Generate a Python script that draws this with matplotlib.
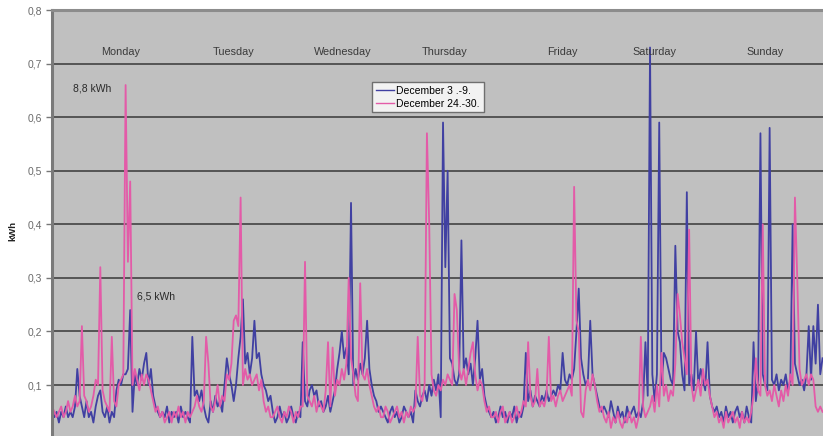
import numpy as np
import matplotlib
matplotlib.use("Agg")
import matplotlib.pyplot as plt

plt.rcParams['font.family'] = ['Liberation Sans', 'DejaVu Sans']

# half-hourly consumption, 48 readings per day, Monday..Sunday
days = ["Monday", "Tuesday", "Wednesday", "Thursday", "Friday", "Saturday", "Sunday"]

week1_mon = [0.05, 0.04, 0.05, 0.03, 0.05, 0.04, 0.06, 0.04, 0.05, 0.04, 0.06, 0.13,
             0.08, 0.06, 0.04, 0.07, 0.04, 0.05, 0.03, 0.06, 0.08, 0.09, 0.05, 0.04,
             0.06, 0.03, 0.05, 0.04, 0.09, 0.11, 0.10, 0.12, 0.12, 0.13, 0.24, 0.05,
             0.12, 0.10, 0.13, 0.11, 0.14, 0.16, 0.10, 0.13, 0.08, 0.06, 0.05, 0.04]
week1_tue = [0.05, 0.04, 0.06, 0.03, 0.05, 0.04, 0.05, 0.03, 0.06, 0.04, 0.05, 0.04,
             0.03, 0.19, 0.08, 0.09, 0.07, 0.09, 0.06, 0.04, 0.03, 0.07, 0.05, 0.08,
             0.06, 0.07, 0.05, 0.10, 0.15, 0.12, 0.10, 0.07, 0.10, 0.15, 0.19, 0.26,
             0.14, 0.16, 0.12, 0.15, 0.22, 0.15, 0.16, 0.12, 0.10, 0.09, 0.07, 0.08]
week1_wed = [0.05, 0.03, 0.04, 0.06, 0.04, 0.05, 0.03, 0.04, 0.06, 0.04, 0.03, 0.05,
             0.04, 0.18, 0.07, 0.06, 0.09, 0.10, 0.08, 0.09, 0.06, 0.07, 0.05, 0.06,
             0.08, 0.05, 0.07, 0.09, 0.13, 0.16, 0.20, 0.15, 0.17, 0.12, 0.44, 0.10,
             0.13, 0.11, 0.14, 0.12, 0.15, 0.22, 0.13, 0.10, 0.08, 0.07, 0.05, 0.06]
week1_thu = [0.05, 0.04, 0.03, 0.05, 0.06, 0.04, 0.05, 0.03, 0.04, 0.06, 0.05, 0.04,
             0.05, 0.03, 0.09, 0.07, 0.06, 0.08, 0.09, 0.07, 0.10, 0.08, 0.11, 0.09,
             0.12, 0.04, 0.59, 0.32, 0.50, 0.15, 0.14, 0.11, 0.10, 0.12, 0.37, 0.13,
             0.15, 0.12, 0.14, 0.10, 0.15, 0.22, 0.11, 0.13, 0.08, 0.06, 0.05, 0.04]
week1_fri = [0.05, 0.03, 0.04, 0.06, 0.04, 0.05, 0.03, 0.05, 0.04, 0.06, 0.03, 0.05,
             0.04, 0.06, 0.16, 0.07, 0.09, 0.06, 0.08, 0.07, 0.06, 0.08, 0.07, 0.09,
             0.07, 0.08, 0.09, 0.08, 0.10, 0.09, 0.16, 0.11, 0.10, 0.12, 0.11, 0.13,
             0.20, 0.28, 0.15, 0.12, 0.10, 0.11, 0.22, 0.12, 0.10, 0.08, 0.06, 0.05]
week1_sat = [0.06, 0.05, 0.04, 0.07, 0.05, 0.03, 0.06, 0.04, 0.05, 0.03, 0.06, 0.04,
             0.05, 0.06, 0.04, 0.05, 0.04, 0.07, 0.18, 0.08, 0.73, 0.12, 0.07, 0.12,
             0.59, 0.10, 0.16, 0.15, 0.13, 0.11, 0.10, 0.36, 0.20, 0.18, 0.12, 0.09,
             0.46, 0.10, 0.12, 0.09, 0.20, 0.10, 0.13, 0.11, 0.09, 0.18, 0.08, 0.06]
week1_sun = [0.05, 0.06, 0.04, 0.05, 0.03, 0.06, 0.04, 0.05, 0.03, 0.05, 0.06, 0.04,
             0.05, 0.03, 0.06, 0.04, 0.03, 0.18, 0.07, 0.11, 0.57, 0.12, 0.10, 0.09,
             0.58, 0.11, 0.10, 0.12, 0.09, 0.11, 0.10, 0.12, 0.09, 0.11, 0.40, 0.14,
             0.12, 0.10, 0.11, 0.09, 0.12, 0.21, 0.11, 0.21, 0.14, 0.25, 0.12, 0.15]

week2_mon = [0.06, 0.05, 0.04, 0.05, 0.06, 0.04, 0.05, 0.07, 0.05, 0.06, 0.08, 0.06,
             0.07, 0.21, 0.08, 0.07, 0.05, 0.06, 0.08, 0.11, 0.10, 0.32, 0.09, 0.07,
             0.06, 0.05, 0.19, 0.07, 0.06, 0.10, 0.11, 0.12, 0.66, 0.33, 0.48, 0.10,
             0.13, 0.11, 0.09, 0.12, 0.10, 0.12, 0.11, 0.09, 0.07, 0.05, 0.06, 0.04]
week2_tue = [0.05, 0.03, 0.04, 0.05, 0.03, 0.05, 0.04, 0.06, 0.04, 0.05, 0.03, 0.05,
             0.04, 0.05, 0.06, 0.08, 0.06, 0.05, 0.07, 0.19, 0.14, 0.06, 0.05, 0.07,
             0.10, 0.06, 0.08, 0.07, 0.12, 0.11, 0.14, 0.22, 0.23, 0.21, 0.45, 0.10,
             0.13, 0.11, 0.12, 0.10, 0.11, 0.12, 0.09, 0.11, 0.07, 0.05, 0.06, 0.04]
week2_wed = [0.04, 0.05, 0.06, 0.04, 0.03, 0.05, 0.04, 0.06, 0.05, 0.03, 0.05, 0.04,
             0.06, 0.06, 0.33, 0.08, 0.07, 0.06, 0.08, 0.05, 0.07, 0.06, 0.05, 0.09,
             0.18, 0.06, 0.17, 0.08, 0.11, 0.10, 0.13, 0.11, 0.14, 0.30, 0.15, 0.12,
             0.08, 0.07, 0.29, 0.12, 0.11, 0.13, 0.10, 0.08, 0.06, 0.05, 0.06, 0.04]
week2_thu = [0.04, 0.06, 0.05, 0.03, 0.04, 0.05, 0.06, 0.04, 0.05, 0.03, 0.05, 0.04,
             0.06, 0.05, 0.06, 0.19, 0.08, 0.07, 0.10, 0.57, 0.40, 0.12, 0.09, 0.08,
             0.10, 0.09, 0.11, 0.10, 0.12, 0.11, 0.10, 0.27, 0.24, 0.13, 0.11, 0.13,
             0.10, 0.13, 0.16, 0.18, 0.12, 0.09, 0.11, 0.10, 0.07, 0.05, 0.06, 0.04]
week2_fri = [0.04, 0.05, 0.03, 0.05, 0.06, 0.03, 0.04, 0.05, 0.03, 0.04, 0.06, 0.04,
             0.05, 0.07, 0.06, 0.18, 0.08, 0.06, 0.07, 0.13, 0.06, 0.07, 0.06, 0.08,
             0.19, 0.07, 0.08, 0.06, 0.08, 0.09, 0.07, 0.08, 0.09, 0.10, 0.08, 0.47,
             0.22, 0.20, 0.05, 0.04, 0.09, 0.11, 0.09, 0.12, 0.10, 0.07, 0.05, 0.06]
week2_sat = [0.04, 0.03, 0.05, 0.02, 0.04, 0.03, 0.05, 0.03, 0.02, 0.04, 0.03, 0.05,
             0.03, 0.04, 0.02, 0.04, 0.19, 0.06, 0.04, 0.05, 0.06, 0.08, 0.05, 0.10,
             0.06, 0.16, 0.08, 0.10, 0.07, 0.09, 0.08, 0.14, 0.27, 0.23, 0.18, 0.15,
             0.12, 0.39, 0.10, 0.07, 0.09, 0.11, 0.08, 0.13, 0.10, 0.11, 0.08, 0.06]
week2_sun = [0.04, 0.05, 0.03, 0.04, 0.02, 0.05, 0.03, 0.04, 0.05, 0.03, 0.04, 0.02,
             0.05, 0.03, 0.04, 0.03, 0.05, 0.08, 0.15, 0.09, 0.08, 0.40, 0.10, 0.08,
             0.09, 0.07, 0.10, 0.08, 0.06, 0.09, 0.07, 0.10, 0.08, 0.12, 0.10, 0.45,
             0.30, 0.13, 0.10, 0.11, 0.12, 0.10, 0.12, 0.11, 0.06, 0.05, 0.06, 0.05]

week1 = np.concatenate([week1_mon, week1_tue, week1_wed, week1_thu,
                        week1_fri, week1_sat, week1_sun])
week2 = np.concatenate([week2_mon, week2_tue, week2_wed, week2_thu,
                        week2_fri, week2_sat, week2_sun])
t = np.arange(len(week1))

# where the day names sit (in reading index units)
day_pos = [30, 79, 126.5, 170.5, 222, 262, 310]

fig = plt.figure(figsize=(8.23, 4.36), dpi=100)
ax = fig.add_axes([52/823, -0.006, 771/823, 0.983])
ax.set_facecolor('#c0c0c0')

ax.plot(t, week1, color='#4040a2', lw=1.3, label='December 3 .-9.')
ax.plot(t, week2, color='#e35ba8', lw=1.3, label='December 24.-30.')

ax.set_xlim(0, 335.2)
ax.set_ylim(0, 0.8)
ax.set_xticks([])
yt = [0.1, 0.2, 0.3, 0.4, 0.5, 0.6, 0.7, 0.8]
ax.set_yticks(yt)
ax.set_yticklabels([f"{v:.1f}".replace('.', ',') for v in yt],
                   fontsize=7.5, color='#6a6a6a')
ax.tick_params(axis='y', length=4, width=1, color='#777777', pad=3)
for v in yt[:-1]:
    ax.axhline(v, color='#555555', lw=1.4, zorder=1)

for s in ['right', 'bottom']:
    ax.spines[s].set_visible(False)
ax.spines['left'].set_color('#7a7a7a')
ax.spines['left'].set_linewidth(2.2)
ax.spines['top'].set_color('#8c8c8c')
ax.spines['top'].set_linewidth(2.2)

for name, x in zip(days, day_pos):
    ax.text(x, 0.722, name, ha='center', va='center', fontsize=7.8, color='#3a3a3a')

ax.text(9, 0.654, "8,8 kWh", fontsize=7.5, color='#2a2a2a', va='center')
ax.text(37, 0.266, "6,5 kWh", fontsize=7.5, color='#2a2a2a', va='center')

fig.text(0.016, 0.47, "kWh", rotation=90, fontsize=6.8, fontweight='bold',
         color='#222222', ha='center', va='center')

leg = ax.legend(loc='upper left', bbox_to_anchor=(372/823, 1 - 82/436),
                bbox_transform=fig.transFigure, fontsize=7.5, frameon=True,
                fancybox=False, handlelength=1.8, borderpad=0.35,
                labelspacing=0.3, handletextpad=0.2, borderaxespad=0)
leg.get_frame().set_edgecolor('#555555')
leg.get_frame().set_linewidth(1)
for lh in leg.get_lines():
    lh.set_linewidth(1)

fig.savefig("out.png", dpi=100)
